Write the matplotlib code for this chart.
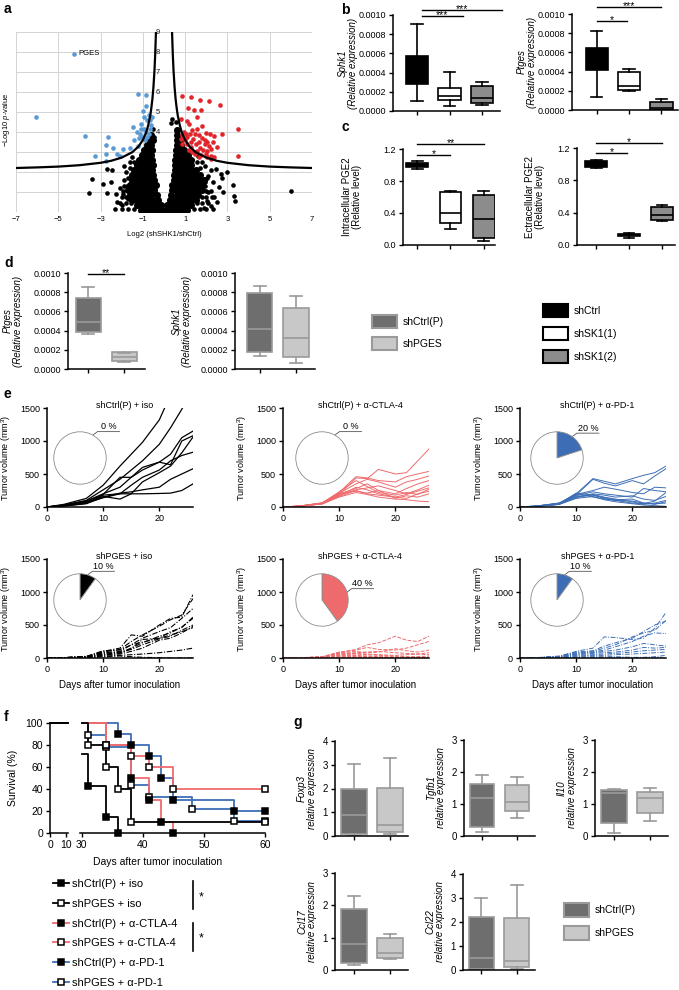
import numpy as np
import matplotlib.pyplot as plt
from matplotlib.lines import Line2D
from matplotlib.patches import Patch

plt.rcParams['font.family'] = ['Liberation Sans', 'DejaVu Sans']
plt.rcParams['mathtext.fontset'] = 'custom'
plt.rcParams['mathtext.rm'] = 'Liberation Sans'
plt.rcParams['mathtext.it'] = 'Liberation Sans:italic'
plt.rcParams['axes.linewidth'] = 1.1
plt.rcParams['xtick.major.size'] = 3
plt.rcParams['ytick.major.size'] = 3
plt.rcParams['xtick.major.width'] = 1.0
plt.rcParams['ytick.major.width'] = 1.0
plt.rcParams['xtick.major.pad'] = 2
plt.rcParams['ytick.major.pad'] = 2

# ---------------- data ----------------
# a: volcano plot
blue_x = [-6.07, -4.26, -3.75, -3.27, -2.74, -2.76, -2.63, -2.74, -2.4, -2.2, -2.1, -1.92, -1.62,
          -1.45, -1.4, -1.23, -0.84, -1.25, -1.12, -0.99, -0.84, -0.95, -1.07, -0.79, -0.71, -0.65,
          -0.6, -0.95, -0.85, -1.03, -0.79, -0.91, -0.71, -1.1, -1.2, -1.26, -0.68, -0.55]
blue_y = [4.75, 7.92, 3.8, 2.82, 2.55, 2.88, 3.77, 3.37, 3.2, 2.88, 2.82, 3.13, 3.18,
          4.25, 3.6, 5.9, 5.87, 3.3, 3.9, 5.05, 5.28, 4.75, 4.4, 4.58, 4.83, 4.58,
          4.37, 4.17, 4.0, 3.75, 3.75, 3.58, 3.92, 4.17, 3.7, 4.0, 4.17, 4.75]
red_pts = [(3.52, 4.15), (3.5, 2.8), (2.74, 3.9), (2.66, 5.37), (2.15, 5.53), (1.69, 5.62),
           (1.29, 5.77), (0.87, 5.78), (1.12, 5.2), (1.42, 5.08), (1.75, 5.1), (1.55, 4.77),
           (1.1, 4.55), (0.8, 4.67), (1.2, 4.42), (1.31, 4.1), (1.58, 4.17), (1.8, 4.28),
           (1.99, 3.93), (2.18, 3.88), (2.37, 3.8), (0.95, 4.02), (0.87, 3.83), (1.1, 3.75),
           (1.39, 3.63), (1.66, 3.5), (1.92, 3.42), (2.13, 3.28), (2.21, 2.82), (2.37, 2.75),
           (1.97, 2.92), (1.74, 2.87), (1.55, 3.05), (1.29, 3.25), (1.1, 3.38), (0.99, 3.58),
           (1.5, 3.38), (1.7, 3.22), (1.86, 3.12), (2.05, 3.05), (1.18, 3.12), (1.34, 3.0),
           (1.47, 2.88), (1.66, 2.75), (2.05, 2.75), (2.24, 2.65), (0.87, 3.42), (0.79, 3.67),
           (1.06, 3.92), (1.21, 3.92), (1.47, 3.92), (1.66, 3.83), (1.78, 3.72), (1.26, 3.5),
           (1.94, 3.62), (2.05, 3.5), (2.3, 3.5), (2.21, 3.17), (2.52, 3.25)]
core_y = [0.1, 0.35, 0.6, 0.85, 1.1, 1.35, 1.6, 1.85, 2.1, 2.35, 2.6, 2.85, 3.1, 3.35, 3.6, 3.85, 4.1]
core_x = [
    [-1.1, -0.9, -0.7, -0.5, -0.3, -0.1, 0.1, 0.3, 0.5, 0.7, 0.9, 1.1],
    [-1.3, -1.1, -0.9, -0.7, -0.5, -0.3, -0.15, 0.15, 0.3, 0.5, 0.7, 0.9, 1.1, 1.3],
    [-1.5, -1.3, -1.1, -0.9, -0.7, -0.5, -0.3, 0.3, 0.5, 0.7, 0.9, 1.1, 1.3, 1.5],
    [-1.6, -1.4, -1.2, -1.0, -0.8, -0.6, -0.35, 0.35, 0.6, 0.8, 1.0, 1.2, 1.4, 1.6],
    [-1.7, -1.5, -1.3, -1.1, -0.9, -0.7, -0.45, 0.4, 0.6, 0.8, 1.0, 1.2, 1.4, 1.6, 1.8],
    [-1.6, -1.4, -1.2, -1.0, -0.8, -0.6, -0.4, 0.4, 0.6, 0.8, 1.0, 1.2, 1.4, 1.6, 1.8],
    [-1.5, -1.3, -1.1, -0.9, -0.7, -0.45, 0.45, 0.65, 0.85, 1.05, 1.25, 1.45, 1.65, 1.9],
    [-1.5, -1.3, -1.1, -0.9, -0.7, -0.5, 0.45, 0.65, 0.85, 1.05, 1.25, 1.45, 1.7],
    [-1.4, -1.2, -1.0, -0.8, -0.55, 0.5, 0.7, 0.9, 1.1, 1.3, 1.5],
    [-1.3, -1.1, -0.9, -0.7, -0.5, 0.5, 0.7, 0.9, 1.1, 1.3],
    [-1.2, -1.0, -0.8, -0.55, 0.5, 0.7, 0.9, 1.1, 1.3],
    [-1.05, -0.85, -0.6, 0.55, 0.75, 0.95, 1.15],
    [-0.95, -0.75, -0.55, 0.55, 0.75, 0.95],
    [-0.8, -0.6, 0.6, 0.8],
    [-0.7, -0.5, 0.6, 0.75],
    [-0.6, 0.6],
    [0.6],
]
black_pts = [(-3.42, 1.63), (-3.53, 0.97), (-2.87, 1.38), (-2.68, 2.17), (-2.44, 2.08), (-2.71, 0.95),
             (-2.29, 0.88), (-2.1, 1.2), (-1.89, 1.58), (-1.69, 0.67), (-1.45, 1.92), (-2.2, 0.5),
             (-1.95, 0.9), (-1.8, 2.0), (-2.5, 1.5), (-2.0, 0.35), (-1.75, 1.3), (-1.9, 2.3),
             (-1.6, 2.5), (-1.5, 2.75), (5.99, 1.05), (3.31, 0.8), (3.36, 0.55), (3.28, 1.37),
             (3.0, 2.0), (2.76, 1.72), (2.6, 1.25), (2.37, 0.75), (2.08, 1.0), (1.92, 1.5),
             (2.44, 2.17), (2.68, 1.92), (2.21, 2.08), (2.02, 0.55), (2.3, 1.5), (2.1, 1.8),
             (1.95, 2.3), (1.8, 2.5), (2.5, 0.5), (2.8, 1.0), (2.2, 0.3), (1.9, 0.2), (1.6, 2.8),
             (1.4, 3.0), (0.4, 4.67), (0.55, 4.5), (0.32, 4.45), (-0.5, 4.17), (-0.47, 3.75),
             (-2.3, 0.15), (-2.0, 0.15), (-1.7, 0.15), (-1.4, 0.15), (1.4, 0.15), (1.7, 0.15),
             (2.0, 0.15), (2.3, 0.15), (-2.1, 0.45), (-1.8, 0.45), (-1.55, 0.45), (1.55, 0.45),
             (1.8, 0.45), (2.1, 0.45), (-2.0, 0.75), (-1.8, 0.75), (1.8, 0.75), (2.0, 0.75),
             (2.25, 0.75), (-1.95, 1.05), (2.0, 1.05), (2.2, 1.05), (-1.9, 1.3), (1.95, 1.3),
             (-1.7, 1.7), (2.05, 1.7), (-1.6, 2.2), (1.7, 2.2), (-1.4, 2.5), (1.55, 2.5)]
thr_x = [0.38, 0.39, 0.42, 0.45, 0.5, 0.55, 0.6, 0.65, 0.75, 0.85, 1.0, 1.2, 1.5, 2.0, 2.5, 3, 4, 5, 6, 7]
thr_y = [9.0, 8.69, 7.78, 7.09, 6.24, 5.64, 5.19, 4.83, 4.32, 3.96, 3.6, 3.28, 2.99, 2.72, 2.56,
         2.46, 2.34, 2.27, 2.23, 2.2]

# b, c: box stats (low whisker, q1, median, q3, high whisker)
sphk1_b = [[0.0001, 0.00028, 0.00043, 0.00057, 0.00091],
           [0.00005, 0.00011, 0.00016, 0.00024, 0.00041],
           [0.00006, 0.00008, 0.00014, 0.00026, 0.0003]]
ptges_b = [[0.00014, 0.00042, 0.00055, 0.00065, 0.00082],
           [0.0002, 0.00021, 0.00025, 0.0004, 0.00043],
           [0.0, 0.0, 0.00002, 0.00008, 0.00011]]
pge2_in = [[0.95, 0.98, 1.0, 1.02, 1.05], [0.2, 0.27, 0.4, 0.66, 0.67], [0.05, 0.09, 0.33, 0.63, 0.67]]
pge2_ex = [[0.95, 0.96, 1.0, 1.04, 1.05], [0.09, 0.11, 0.12, 0.13, 0.15], [0.3, 0.31, 0.37, 0.47, 0.49]]
groups_b = ['shCtrl', 'shSK1(1)', 'shSK1(2)']

# d
ptges_d = [[0.00036, 0.00039, 0.00049, 0.00074, 0.00085], [0.00007, 0.00008, 0.000125, 0.00018, 0.00017]]
sphk1_d = [[0.00014, 0.00018, 0.00042, 0.00079, 0.00086], [0.00006, 0.00013, 0.00032, 0.00064, 0.00076]]
groups_d = ['shCtrl(P)', 'shPGES']

# e: tumour volumes
tumor_days = [0, 3, 7, 10, 13, 15, 17, 20, 22, 24, 26]
ctrl_iso = [[0, 40, 130, 330, 620, 800, 980, 1320, 1700, 2000, 2300],
            [0, 30, 100, 260, 420, 560, 700, 950, 1200, 1480, 1800],
            [0, 30, 90, 200, 300, 450, 560, 680, 800, 1050, 1150],
            [0, 25, 80, 190, 450, 450, 600, 680, 640, 1000, 1080],
            [0, 20, 70, 160, 120, 200, 380, 520, 620, 820, 1060],
            [0, 20, 60, 140, 200, 330, 450, 560, 700, 780, 830],
            [0, 15, 50, 150, 210, 230, 260, 300, 420, 500, 580],
            [0, 15, 55, 180, 200, 200, 200, 205, 210, 250, 350]]
ctrl_ctla = [[0, 15, 60, 190, 440, 430, 570, 500, 520, 700, 880],
             [0, 15, 65, 220, 460, 440, 400, 380, 460, 500, 540],
             [0, 15, 60, 210, 350, 420, 380, 300, 380, 420, 470],
             [0, 15, 55, 200, 280, 350, 250, 200, 280, 350, 400],
             [0, 15, 50, 180, 260, 290, 320, 250, 200, 260, 330],
             [0, 15, 60, 230, 400, 310, 220, 180, 220, 190, 270],
             [0, 10, 55, 160, 250, 200, 180, 150, 130, 200, 240],
             [0, 10, 50, 200, 240, 210, 250, 130, 170, 150, 200],
             [0, 10, 45, 150, 220, 190, 150, 120, 110, 90, 80],
             [0, 10, 50, 170, 300, 260, 200, 150, 190, 240, 290]]
ctrl_pd1 = [[0, 15, 60, 200, 430, 390, 350, 430, 480, 520, 620],
            [0, 15, 55, 180, 420, 360, 320, 400, 350, 470, 580],
            [0, 15, 60, 190, 250, 300, 270, 220, 200, 300, 290],
            [0, 15, 50, 170, 230, 200, 180, 150, 280, 250, 230],
            [0, 10, 45, 150, 200, 180, 150, 170, 120, 100, 160],
            [0, 10, 40, 160, 180, 130, 100, 90, 60, 50, 60],
            [0, 10, 45, 140, 190, 150, 120, 80, 40, 60, 100],
            [0, 10, 40, 130, 160, 110, 80, 50, 30, 20, 10],
            [0, 10, 40, 200, 150, 120, 100, 60, 50, 90, 220],
            [0, 10, 50, 210, 180, 140, 110, 120, 60, 40, 80]]
pges_iso = [[0, 5, 20, 100, 150, 350, 330, 500, 600, 620, 960],
            [0, 5, 20, 90, 130, 250, 350, 480, 580, 650, 900],
            [0, 5, 25, 110, 120, 200, 300, 400, 460, 600, 750],
            [0, 5, 20, 80, 100, 200, 240, 300, 400, 460, 620],
            [0, 5, 15, 60, 80, 150, 230, 330, 380, 470, 600],
            [0, 5, 15, 70, 90, 130, 200, 290, 330, 420, 500],
            [0, 5, 15, 50, 60, 100, 150, 270, 300, 380, 480],
            [0, 5, 10, 40, 70, 140, 280, 300, 350, 400, 460],
            [0, 2, 5, 20, 30, 20, 10, 5, 0, 0, 0],
            [0, 3, 10, 30, 40, 50, 60, 80, 100, 120, 150]]
pges_ctla = [[0, 3, 20, 80, 130, 200, 230, 330, 270, 250, 330],
             [0, 3, 20, 90, 120, 160, 130, 120, 150, 200, 250],
             [0, 3, 15, 80, 100, 80, 90, 140, 110, 90, 120],
             [0, 3, 15, 70, 80, 90, 100, 80, 70, 60, 80],
             [0, 2, 10, 60, 70, 60, 50, 40, 50, 60, 50],
             [0, 2, 10, 50, 60, 50, 40, 30, 20, 20, 30],
             [0, 2, 10, 40, 40, 30, 20, 20, 10, 10, 10],
             [0, 2, 5, 30, 30, 20, 10, 5, 5, 0, 0],
             [0, 2, 5, 20, 20, 10, 5, 0, 0, 0, 0],
             [0, 1, 5, 10, 10, 5, 0, 0, 0, 0, 0]]
pges_pd1 = [[0, 5, 30, 100, 150, 320, 310, 280, 300, 450, 690],
            [0, 5, 25, 90, 110, 180, 230, 300, 400, 500, 560],
            [0, 5, 20, 80, 100, 150, 200, 320, 380, 420, 570],
            [0, 5, 20, 70, 90, 120, 170, 250, 330, 380, 370],
            [0, 5, 15, 60, 80, 100, 120, 170, 220, 200, 180],
            [0, 5, 15, 50, 70, 80, 90, 120, 160, 150, 160],
            [0, 3, 10, 40, 50, 60, 70, 90, 110, 120, 130],
            [0, 3, 10, 30, 40, 40, 50, 60, 70, 80, 90],
            [0, 2, 5, 20, 20, 20, 20, 10, 10, 20, 40],
            [0, 2, 5, 10, 10, 5, 5, 0, 0, 0, 0]]
e_titles = ['shCtrl(P) + iso', 'shCtrl(P) + α-CTLA-4', 'shCtrl(P) + α-PD-1',
            'shPGES + iso', 'shPGES + α-CTLA-4', 'shPGES + α-PD-1']
cure_pct = [0, 0, 20, 10, 40, 10]

# f: survival (days >= 30, step post)
surv_labels = ['shCtrl(P) + iso', 'shPGES + iso', 'shCtrl(P) + α-CTLA-4',
               'shPGES + α-CTLA-4', 'shCtrl(P) + α-PD-1', 'shPGES + α-PD-1']
surv_t = [[30, 31, 34, 36],
          [30, 31, 34, 36, 38, 60],
          [30, 34, 38, 41, 43, 45],
          [30, 34, 38, 41, 45, 60],
          [30, 36, 38, 41, 43, 45, 55, 60],
          [30, 31, 34, 38, 41, 48, 55, 60]]
surv_s = [[71.4, 42.9, 14.3, 0],
          [100, 80, 60, 40, 10, 10],
          [100, 80, 50, 30, 10, 0],
          [100, 80, 70, 60, 40, 40],
          [100, 90, 80, 70, 50, 30, 20, 20],
          [100, 89, 78, 44, 33, 22, 11, 11]]

# g
foxp3 = [[0.02, 0.07, 0.88, 2.0, 3.03], [0.1, 0.17, 0.45, 2.02, 3.3]]
tgfb1 = [[0.12, 0.29, 1.2, 1.62, 1.9], [0.55, 0.78, 1.05, 1.6, 1.85]]
il10 = [[0.1, 0.4, 1.35, 1.45, 1.47], [0.48, 0.73, 1.18, 1.38, 1.5]]
ccl17 = [[0.15, 0.22, 0.8, 1.9, 2.3], [0.35, 0.38, 0.52, 0.99, 1.12]]
ccl22 = [[0.02, 0.05, 0.5, 2.2, 3.0], [0.05, 0.12, 0.38, 2.18, 3.55]]

RED = '#ee6b6d'
BLUE = '#3d6eb5'

# ---------------- layout helpers (pixel coords, origin top-left) ----------------
W, H = 679, 990
fig = plt.figure(figsize=(W / 100, H / 100), dpi=100)


def add_ax(l, t, r, b):
    return fig.add_axes([l / W, 1 - b / H, (r - l) / W, (b - t) / H])


def ftext(x, y, s, **kw):
    fig.text(x / W, 1 - y / H, s, **kw)


def fline(xs, ys, **kw):
    fig.add_artist(Line2D([x / W for x in xs], [1 - y / H for y in ys],
                          transform=fig.transFigure, **kw))


def clean(ax, fs=6.5):
    ax.spines['top'].set_visible(False)
    ax.spines['right'].set_visible(False)
    ax.tick_params(labelsize=fs)


def boxes(ax, data, faces, edge, lw=1.2, width=0.7, medcol=None):
    st = [dict(whislo=d[0], q1=d[1], med=d[2], q3=d[3], whishi=d[4], fliers=[]) for d in data]
    pos = list(range(1, len(data) + 1))
    bp = ax.bxp(st, positions=pos, widths=width, patch_artist=True, showfliers=False,
                manage_ticks=False,
                boxprops=dict(linewidth=lw, edgecolor=edge),
                whiskerprops=dict(linewidth=lw, color=edge),
                capprops=dict(linewidth=lw, color=edge),
                medianprops=dict(linewidth=lw, color=medcol or edge))
    for p, fc in zip(bp['boxes'], faces):
        p.set_facecolor(fc)
    ax.set_xticks(pos)
    ax.set_xticklabels([])


def sig(ax, x1, x2, y, s):
    ax.plot([x1, x2], [y, y], color='k', lw=1.0, clip_on=False)
    ax.annotate(s, xy=((x1 + x2) / 2, y), xytext=(0, -1.5), textcoords='offset points',
                ha='center', va='baseline', fontsize=7.5, annotation_clip=False)


# ---------------- a ----------------
ax = add_ax(16, 32, 312, 212)
ax.set_xlim(-7, 7)
ax.set_ylim(0, 9)
ax.set_xticks([-7, -5, -3, -1, 1, 3, 5, 7])
ax.set_yticks(range(10))
ax.set_yticklabels([])
ax.grid(True, color='#d4d4d4', lw=0.7)
ax.set_axisbelow(True)
for s in ax.spines.values():
    s.set_visible(False)
ax.tick_params(length=0, labelsize=5.5, pad=3)
cx = [x for row, y in zip(core_x, core_y) for x in row]
cy = [y for row, y in zip(core_x, core_y) for x in row]
ax.scatter(cx, cy, s=26, color='black', lw=0, zorder=2)
bp_ = np.array(black_pts)
ax.scatter(bp_[:, 0], bp_[:, 1], s=11, color='black', lw=0, zorder=2)
rp = np.array(red_pts)
ax.scatter(rp[:, 0], rp[:, 1], s=11, color='#e0262c', lw=0, zorder=3)
ax.scatter(blue_x, blue_y, s=11, color='#5b9bd5', lw=0, zorder=3)
ax.plot(thr_x, thr_y, color='black', lw=1.6, zorder=4)
ax.plot([-x for x in thr_x], thr_y, color='black', lw=1.6, zorder=4)
for k in range(4, 10):
    ax.text(-0.28, k, str(k), fontsize=5.5, ha='center', va='center', color='#222', zorder=1)
ax.text(-4.05, 7.92, 'PGES', fontsize=5.5, va='center')
ftext(164, 235, 'Log2 (shSHK1/shCtrl)', fontsize=5.5, ha='center', va='center')
ftext(7, 120, '−Log10 $p$-value', fontsize=5.5, ha='center', va='center', rotation=90)

# ---------------- b ----------------
bfaces = ['black', 'white', '#8c8c8c']
ax = add_ax(393, 15, 500, 111)
boxes(ax, sphk1_b, bfaces, 'black')
ax.set_xlim(0.26, 3.55)
ax.set_ylim(0, 0.001)
ax.set_yticks([0, 0.0002, 0.0004, 0.0006, 0.0008, 0.001])
ax.set_yticklabels(['0.0000', '0.0002', '0.0004', '0.0006', '0.0008', '0.0010'])
clean(ax)
sig(ax, 1.15, 2.4, 0.00099, '***')
sig(ax, 1.15, 3.6, 0.00105, '***')
ftext(348, 63, 'Sphk1\n(Relative expression)', fontsize=7, style='italic', rotation=90,
      ha='center', va='center', linespacing=1.05)

ax = add_ax(572, 14, 678, 110)
boxes(ax, ptges_b, bfaces, 'black')
ax.set_xlim(0.23, 3.52)
ax.set_ylim(0, 0.001)
ax.set_yticks([0, 0.0002, 0.0004, 0.0006, 0.0008, 0.001])
ax.set_yticklabels(['0.0000', '0.0002', '0.0004', '0.0006', '0.0008', '0.0010'])
clean(ax)
sig(ax, 1.0, 1.95, 0.00093, '*')
sig(ax, 1.0, 3.0, 0.00107, '***')
ftext(527, 62, 'Ptges\n(Relative expression)', fontsize=7, style='italic', rotation=90,
      ha='center', va='center', linespacing=1.05)

# ---------------- c ----------------
ax = add_ax(403, 149, 495, 245)
boxes(ax, pge2_in, bfaces, 'black', width=0.65)
ax.set_xlim(0.57, 3.34)
ax.set_ylim(0, 1.2)
ax.set_yticks([0, 0.4, 0.8, 1.2])
ax.set_yticklabels(['0.0', '0.4', '0.8', '1.2'])
clean(ax)
sig(ax, 1.0, 2.0, 1.125, '*')
sig(ax, 1.0, 3.0, 1.26, '**')
ftext(352, 197, 'Intracellular PGE2\n(Relative level)', fontsize=7, rotation=90,
      ha='center', va='center', linespacing=1.05)

ax = add_ax(577, 148, 675, 245)
boxes(ax, pge2_ex, bfaces, 'black', width=0.65)
ax.set_xlim(0.42, 3.39)
ax.set_ylim(0, 1.2)
ax.set_yticks([0, 0.4, 0.8, 1.2])
ax.set_yticklabels(['0.0', '0.4', '0.8', '1.2'])
clean(ax)
sig(ax, 1.0, 1.95, 1.14, '*')
sig(ax, 1.0, 3.0, 1.26, '*')
ftext(535, 197, 'Ectracellular PGE2\n(Relative level)', fontsize=7, rotation=90,
      ha='center', va='center', linespacing=1.05)

# ---------------- d ----------------
dfaces = ['#6e6e6e', '#c8c8c8']
ax = add_ax(68, 273, 145, 369)
boxes(ax, ptges_d, dfaces, '#9a9a9a')
ax.set_xlim(0.44, 2.58)
ax.set_ylim(0, 0.001)
ax.set_yticks([0, 0.0002, 0.0004, 0.0006, 0.0008, 0.001])
ax.set_yticklabels(['0.0000', '0.0002', '0.0004', '0.0006', '0.0008', '0.0010'])
clean(ax)
sig(ax, 1.0, 2.0, 0.00099, '**')
ftext(13, 321, 'Ptges\n(Relative expression)', fontsize=7, style='italic', rotation=90,
      ha='center', va='center', linespacing=1.05)

ax = add_ax(235, 273, 315, 369)
boxes(ax, sphk1_d, dfaces, '#9a9a9a')
ax.set_xlim(0.31, 2.53)
ax.set_ylim(0, 0.001)
ax.set_yticks([0, 0.0002, 0.0004, 0.0006, 0.0008, 0.001])
ax.set_yticklabels(['0.0000', '0.0002', '0.0004', '0.0006', '0.0008', '0.0010'])
clean(ax)
ftext(182, 321, 'Sphk1\n(Relative expression)', fontsize=7, style='italic', rotation=90,
      ha='center', va='center', linespacing=1.05)

leg_d = [Patch(facecolor=f, edgecolor='#9a9a9a', lw=1.5) for f in dfaces]
fig.legend(leg_d, groups_d, loc='upper left', bbox_to_anchor=(372 / W, 1 - 315 / H),
           frameon=False, fontsize=7.5, handlelength=2.4, handleheight=1.5,
           labelspacing=0.93, handletextpad=0.55, borderpad=0, borderaxespad=0)
leg_b = [Patch(facecolor=f, edgecolor='black', lw=1.5) for f in bfaces]
fig.legend(leg_b, groups_b, loc='upper left', bbox_to_anchor=(543 / W, 1 - 304 / H),
           frameon=False, fontsize=7.5, handlelength=2.4, handleheight=1.55,
           labelspacing=0.96, handletextpad=0.55, borderpad=0, borderaxespad=0)

# ---------------- e ----------------
e_data = [ctrl_iso, ctrl_ctla, ctrl_pd1, pges_iso, pges_ctla, pges_pd1]
e_col = ['black', RED, BLUE, 'black', RED, BLUE]
e_ls = ['-', '-', '-', (0, (5, 1.5, 1, 1.5)), (0, (4, 1.5)), (0, (5, 1.5, 1, 1.5))]
e_lw = [0.9, 0.7, 0.7, 0.8, 0.7, 0.7]
cols_px = [(47, 193), (283, 429), (520, 666)]
rows_px = [(408, 507), (559, 658)]
pie_cx = [80, 322, 557]
pie_cy = [458, 600]
for i in range(6):
    r, c = divmod(i, 3)
    l, rr = cols_px[c]
    t, b = rows_px[r]
    ax = add_ax(l, t, rr, b)
    for v in e_data[i]:
        ax.plot(tumor_days, v, color=e_col[i], ls=e_ls[i], lw=e_lw[i])
    ax.set_xlim(0, 26)
    ax.set_ylim(0, 1500)
    ax.set_xticks([0, 10, 20])
    ax.set_yticks([0, 500, 1000, 1500])
    clean(ax)
    ax.set_ylabel('Tumor volume (mm$^3$)', fontsize=6.5)
    ax.yaxis.set_label_coords(-0.235, 0.5)
    ax.text(0.53, 1.03, e_titles[i], transform=ax.transAxes, ha='center', va='center', fontsize=6.5)
    if r == 1:
        ax.set_xlabel('Days after tumor inoculation', fontsize=7, labelpad=4)
    # cure pie
    px, py = pie_cx[c], pie_cy[r]
    pa = add_ax(px - 27, py - 27, px + 27, py + 27)
    pct = cure_pct[i]
    vals = [pct, 100 - pct] if pct > 0 else [100]
    pcs = [e_col[i], 'white'] if pct > 0 else ['white']
    pa.pie(vals, colors=pcs, startangle=90, counterclock=False,
           wedgeprops=dict(edgecolor='#8c8c8c', linewidth=0.6))
    pa.set_xlim(-1.03, 1.03)
    pa.set_ylim(-1.03, 1.03)
    ang = np.deg2rad(60 if pct == 0 else 90 - pct * 1.8)
    ex, ey = px + 27 * np.cos(ang), py - 27 * np.sin(ang)
    fline([ex, ex + 4, ex + 26], [ey, ey - 3, ey - 3], color='#555', lw=0.6)
    ftext(ex + 15, ey - 8, '%d %%' % pct, fontsize=6.5, ha='center', va='center')

# ---------------- f ----------------
surv_col = ['black', 'black', RED, RED, BLUE, BLUE]
surv_mfc = ['black', 'white'] * 3
axL = add_ax(50, 723, 68, 833)
axR = add_ax(80, 723, 265, 833)
for k in [4, 5, 2, 3, 0, 1]:
    axL.plot([0, 11.1], [100, 100], color=surv_col[k], lw=1.3, clip_on=False)
    axR.step(surv_t[k], surv_s[k], where='post', color=surv_col[k], lw=1.3, clip_on=False)
for k in [4, 5, 2, 3, 0, 1]:
    axR.plot(surv_t[k][1:], surv_s[k][1:], 's', mfc=surv_mfc[k], mec='black', ms=4.5, mew=1.1,
             clip_on=False, zorder=5)
axL.set_xlim(0, 11.1)
axL.set_ylim(0, 100)
axL.set_xticks([0, 10])
axL.set_yticks([0, 20, 40, 60, 80, 100])
clean(axL, 7.5)
axR.set_xlim(29.7, 60)
axR.set_ylim(0, 100)
axR.set_xticks([30, 40, 50, 60])
axR.set_yticks([])
clean(axR, 7.5)
axR.spines['left'].set_visible(False)
ftext(158, 862, 'Days after tumor inoculation', fontsize=7.5, ha='center', va='center')
ftext(13, 778, 'Survival (%)', fontsize=7.5, ha='center', va='center', rotation=90)

leg_f = [Line2D([], [], color=surv_col[k], lw=1.3, marker='s', mfc=surv_mfc[k], mec='black',
                ms=4.5, mew=1.1) for k in range(6)]
fig.legend(leg_f, surv_labels, loc='upper left', bbox_to_anchor=(53 / W, 1 - 879 / H),
           frameon=False, fontsize=8, handlelength=1.4, handletextpad=0.35,
           labelspacing=0.88, borderpad=0, borderaxespad=0)
fline([193, 193], [881, 909], color='black', lw=1.2)
ftext(201, 897, '*', fontsize=9, ha='center', va='center')
fline([193, 193], [923, 951], color='black', lw=1.2)
ftext(201, 938, '*', fontsize=9, ha='center', va='center')

# ---------------- g ----------------
g_sets = [(foxp3, 'Foxp3', (335, 741, 408, 836), 4, (0.47, 2.5)),
          (tgfb1, 'Tgfb1', (464, 740, 535, 836), 3, (0.49, 2.51)),
          (il10, 'Il10', (595, 740, 668, 836), 3, (0.47, 2.5)),
          (ccl17, 'Ccl17', (335, 873, 408, 970), 3, (0.47, 2.5)),
          (ccl22, 'Ccl22', (463, 874, 535, 970), 4, (0.49, 2.51))]
for data, name, (l, t, r, b), top, xl in g_sets:
    ax = add_ax(l, t, r, b)
    boxes(ax, data, dfaces, '#9a9a9a')
    ax.set_xlim(*xl)
    ax.set_ylim(0, top)
    ax.set_yticks(range(top + 1))
    clean(ax, 7)
    ftext(l - 28, (t + b) / 2, name + '\nrelative expression', fontsize=7, style='italic',
          rotation=90, ha='center', va='center', linespacing=1.0)

leg_g = [Patch(facecolor=f, edgecolor='#9a9a9a', lw=1.5) for f in dfaces]
fig.legend(leg_g, groups_d, loc='upper left', bbox_to_anchor=(564 / W, 1 - 903 / H),
           frameon=False, fontsize=7.5, handlelength=2.4, handleheight=1.65,
           labelspacing=0.9, handletextpad=0.55, borderpad=0, borderaxespad=0)

# panel letters
for s, x, y in [('a', 4, 9), ('b', 341, 10), ('c', 341, 127), ('d', 4, 263), ('e', 4, 394),
                ('f', 4, 717), ('g', 293, 722)]:
    ftext(x, y, s, fontsize=10, fontweight='bold', ha='left', va='center')

fig.savefig('out.png', dpi=100)
